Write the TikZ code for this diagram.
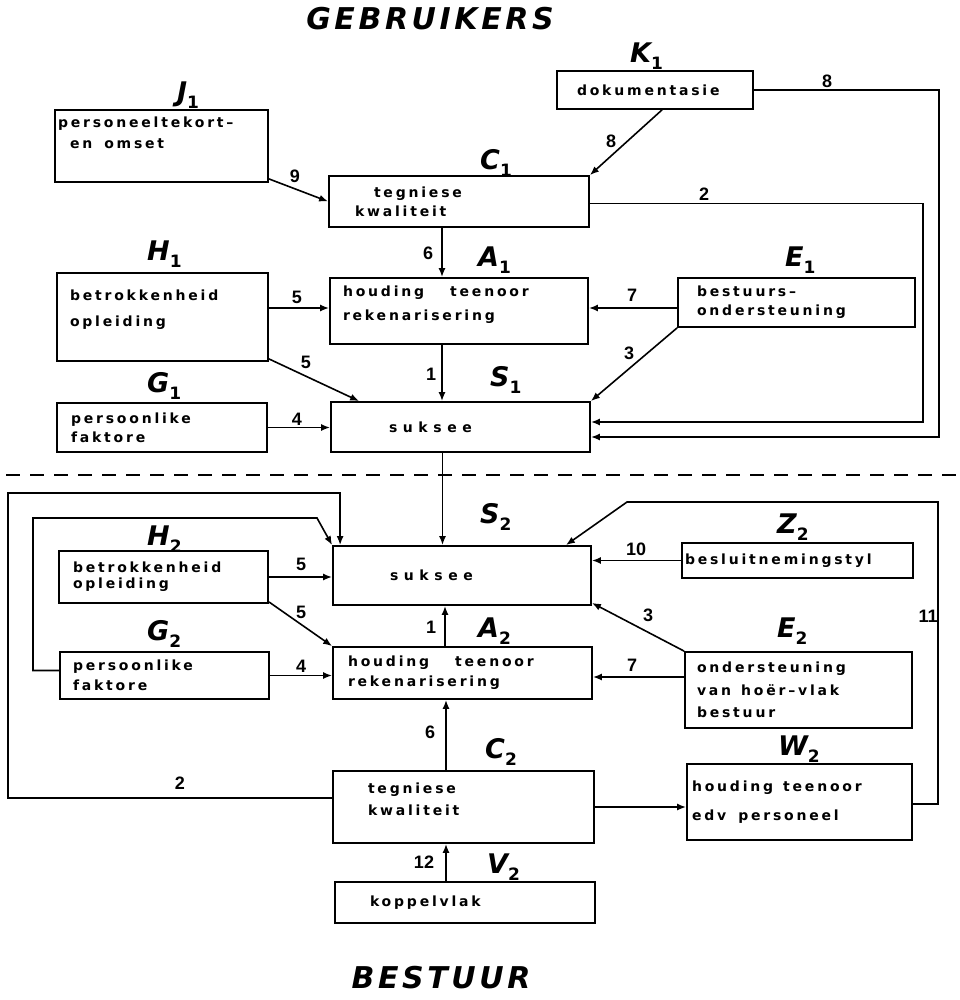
\documentclass[tikz,border=0pt]{standalone}
\usepackage{fontspec}
\usetikzlibrary{arrows.meta, calc}

\newfontfamily\vakfam[LetterSpace=20]{DejaVu Sans}
\newfontfamily\kopfam{DejaVu Sans}
\newfontfamily\titelfam[LetterSpace=12]{DejaVu Sans}
\newfontfamily\getalfam{Liberation Sans}

\newcommand{\vakfont}{\vakfam\bfseries\fontsize{14}{21}\selectfont}
\newcommand{\getalfont}{\getalfam\bfseries\fontsize{18}{18}\selectfont}
\newcommand{\titelfont}{\titelfam\bfseries\itshape\fontsize{30}{30}\selectfont}
\newcommand{\kop}[2]{{\kopfam\bfseries\itshape\fontsize{27}{27}\selectfont #1}\raisebox{-7pt}{\kopfam\bfseries\fontsize{17}{17}\selectfont #2}}
\newcommand{\suksee}{{\addfontfeature{LetterSpace=40}suksee}}

\begin{document}
\begin{tikzpicture}[
  x=1pt, y=-1pt,
  vak/.style={
    draw,
    line width=1.8pt,
    rectangle,
    align=left,
    inner ysep=2pt,
    font=\vakfont
  },
  pyl/.style={-{Latex[length=9pt, width=7pt]}, line width=1.6pt},
  getal/.style={font=\getalfont, inner sep=0pt},
  kopnode/.style={inner sep=0pt, anchor=base west},
  titel/.style={font=\titelfont, inner sep=0pt}
]
  \fill[white] (0,0) rectangle (959,1000);
  \useasboundingbox (0,0) rectangle (959,1000);

  % --- GEBRUIKERS (top half) ---
  \node[titel] (gebruikers) at (430,19) {GEBRUIKERS};

  \node[vak, text width=207pt, inner xsep=3pt,  minimum height=72pt] (j1) at (161.5,146) {personeeltekort–\\\hspace*{12pt}en\hspace{12pt}omset\\[5pt]\mbox{}};
  \node[vak, text width=156pt, inner xsep=20pt, minimum height=38pt] (k1) at (655,90)    {dokumentasie};
  \node[vak, text width=208pt, inner xsep=26pt, minimum height=51pt] (c1) at (459,201.5) {\hspace*{19pt}tegniese\\[-2pt]kwaliteit};
  \node[vak, text width=185pt, inner xsep=13pt, minimum height=88pt] (h1) at (162.5,317) {betrokkenheid\\[5pt]opleiding\\[-3pt]\mbox{}};
  \node[vak, text width=232pt, inner xsep=13pt, minimum height=66pt] (a1) at (459,311)   {houding\hspace{26pt}teenoor\\[3pt]rekenarisering\\[-5pt]\mbox{}};
  \node[vak, text width=199pt, inner xsep=19pt, minimum height=49pt] (e1) at (796.5,302.5) {bestuurs–\\[-2pt]ondersteuning};
  \node[vak, text width=182pt, inner xsep=14pt, minimum height=49pt] (g1) at (162,427.5) {persoonlike\\[-2pt]faktore};
  \node[vak, text width=143pt, inner xsep=58pt, minimum height=50pt] (s1) at (460.5,427) {\suksee};

  \node[kopnode] (j1k) at (177,102) {\kop{J}{1}};
  \node[kopnode] (k1k) at (630,63)  {\kop{K}{1}};
  \node[kopnode] (c1k) at (480,170) {\kop{C}{1}};
  \node[kopnode] (h1k) at (147,260) {\kop{H}{1}};
  \node[kopnode] (a1k) at (478,266) {\kop{A}{1}};
  \node[kopnode] (e1k) at (785,266) {\kop{E}{1}};
  \node[kopnode] (g1k) at (147,392) {\kop{G}{1}};
  \node[kopnode] (s1k) at (490,386) {\kop{S}{1}};

  % arrows, top half
  \draw[pyl] ([yshift=4pt]j1.south east) -- (c1.west) node[getal] (n9) at (295,176) {9};
  \draw[pyl] ([xshift=7pt]k1.south) -- (c1.north east) node[getal] (n8a) at (611,141) {8};
  \draw[pyl] (k1.east) -- ++(185,0) |- ([yshift=-10pt]s1.east) node[getal] (n8b) at (827,81) {8};
  \draw[pyl] ([yshift=-2pt]c1.east) -- ++(333,0) |- ([yshift=5pt]s1.east) node[getal] (n2a) at (704,194) {2};
  \draw[pyl] ([xshift=-17pt]c1.south) -- ([xshift=-17pt]a1.north) node[getal] (n6a) at (428,253) {6};
  \draw[pyl] ([yshift=3pt]a1.west -| h1.east) -- ([yshift=3pt]a1.west) node[getal] (n5a) at (297,297) {5};
  \draw[pyl] ([yshift=3pt]a1.east -| e1.west) -- ([yshift=3pt]a1.east) node[getal] (n7a) at (632,295) {7};
  \draw[pyl] ([xshift=-17pt]a1.south) -- ([xshift=-17pt]a1.south |- s1.north) node[getal] (n1a) at (431,374) {1};
  \draw[pyl] ([yshift=3pt]h1.south east) -- ([xshift=29pt]s1.north west) node[getal] (n5b) at (306,362) {5};
  \draw[pyl] (e1.south west) -- (s1.north east) node[getal] (n3a) at (629,353) {3};
  \draw[pyl] (g1.east) -- (g1.east -| s1.west) node[getal] (n4a) at (297,419) {4};

  % --- dividing line ---
  \draw[line width=1.2pt, dash pattern=on 14pt off 10pt] (6,475) -- (959,475);

  % --- BESTUUR (bottom half) ---
  \node[vak, text width=144pt, inner xsep=57pt, minimum height=59pt] (s2) at (462,575.5) {\suksee};
  \node[vak, text width=181pt, inner xsep=14pt, minimum height=52pt] (h2) at (163.5,577) {betrokkenheid\\[-5pt]opleiding};
  \node[vak, text width=183pt, inner xsep=13pt, minimum height=47pt] (g2) at (164.5,675.5) {persoonlike\\[-1pt]faktore};
  \node[vak, text width=229pt, inner xsep=15pt, minimum height=52pt] (a2) at (462.5,673) {houding\hspace{26pt}teenoor\\[-1pt]rekenarisering};
  \node[vak, text width=225pt, inner xsep=3pt,  minimum height=35pt] (z2) at (797.5,560.5) {besluitnemingstyl};
  \node[vak, text width=203pt, inner xsep=12pt, minimum height=76pt] (e2) at (798.5,690) {ondersteuning\\[1.5pt]van\hspace{10pt}hoër–vlak\\[1.5pt]bestuur};
  \node[vak, text width=191pt, inner xsep=35pt, minimum height=72pt] (c2) at (463.5,807) {tegniese\\[1pt]kwaliteit\\[-5pt]\mbox{}};
  \node[vak, text width=215pt, inner xsep=5pt,  minimum height=76pt] (w2) at (799.5,802) {houding\hspace{10pt}teenoor\\[8pt]edv\hspace{12pt}personeel};
  \node[vak, text width=190pt, inner xsep=35pt, minimum height=41pt] (v2) at (465,902.5) {koppelvlak};

  \node[kopnode] (s2k) at (480,523) {\kop{S}{2}};
  \node[kopnode] (h2k) at (147,545) {\kop{H}{2}};
  \node[kopnode] (z2k) at (777,533) {\kop{Z}{2}};
  \node[kopnode] (g2k) at (147,640) {\kop{G}{2}};
  \node[kopnode] (a2k) at (478,637) {\kop{A}{2}};
  \node[kopnode] (e2k) at (777,637) {\kop{E}{2}};
  \node[kopnode] (c2k) at (485,758) {\kop{C}{2}};
  \node[kopnode] (w2k) at (778,755) {\kop{W}{2}};
  \node[kopnode] (v2k) at (487,873) {\kop{V}{2}};

  \coordinate (buite) at (8,493);
  \coordinate (binne) at (33,518);
  \coordinate (regs)  at (938,502);

  % arrows, bottom half
  \draw[pyl] ([xshift=-18pt]s1.south) -- ([xshift=-18pt]s1.south |- s2.north);
  \draw[pyl] ([yshift=9pt]c2.west) -| (buite) -| ([xshift=8pt]s2.north west) node[getal] (n2b) at (180,783) {2};
  \draw[pyl] ([yshift=5pt]g2.west) -| (binne) -- ++(284,0) -- (s2.north west);
  \draw[pyl] (h2.east) -- (h2.east -| s2.west) node[getal] (n5c) at (301,564) {5};
  \draw[pyl] ([yshift=2pt]h2.south east) -- (a2.north west) node[getal] (n5d) at (301,612) {5};
  \draw[pyl] (g2.east) -- (g2.east -| a2.west) node[getal] (n4b) at (301,666) {4};
  \draw[pyl] ([xshift=-17.5pt]a2.north) -- ([xshift=-17.5pt]a2.north |- s2.south) node[getal] (n1b) at (431,627) {1};
  \draw[pyl] ([xshift=-17.5pt]c2.north) -- ([xshift=-17.5pt]c2.north |- a2.south) node[getal] (n6b) at (430,732) {6};
  \draw[pyl] ([xshift=-19pt]v2.north) -- ([xshift=-19pt]v2.north |- c2.south) node[getal] (n12) at (424,862) {12};
  \draw[pyl] (z2.west) -- (z2.west -| s2.east) node[getal] (n10) at (636,549) {10};
  \draw[pyl] (e2.north west) -- ([yshift=3pt]s2.south east) node[getal] (n3b) at (648,615) {3};
  \draw[pyl] ([yshift=-4pt]a2.east -| e2.west) -- ([yshift=-4pt]a2.east) node[getal] (n7b) at (632,665) {7};
  \draw[pyl] (c2.east) -- (c2.east -| w2.west);
  \draw[pyl] ([yshift=-2pt]w2.east) -| (regs) -- ++(-311,0) -- ([xshift=-26pt]s2.north east) node[getal] (n11) at (928,616) {11};

  \node[titel] (bestuur) at (441,978) {BESTUUR};
\end{tikzpicture}
\end{document}
